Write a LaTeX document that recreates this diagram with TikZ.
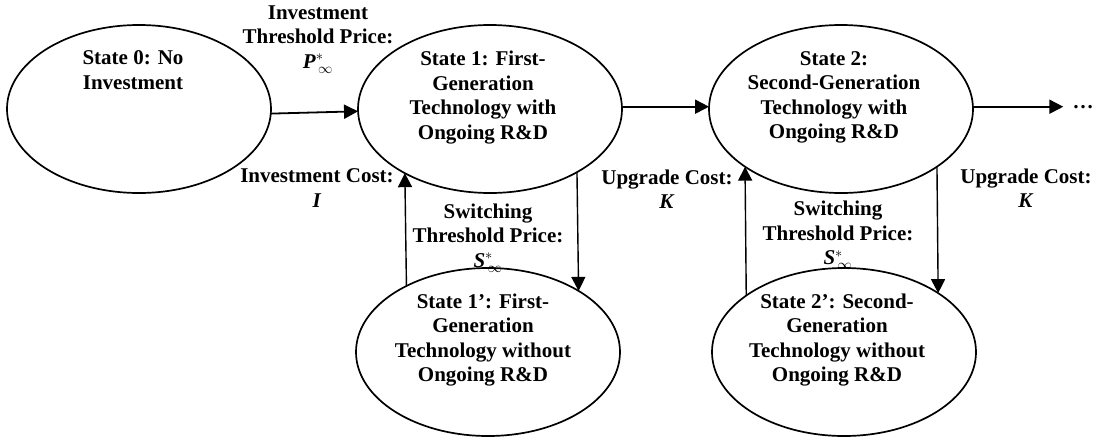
\documentclass[tikz,border=0pt]{standalone}
\usepackage{fontspec}
\setmainfont{Liberation Serif}
\usetikzlibrary{shapes.geometric,arrows.meta}
\begin{document}
\begin{tikzpicture}[x=1pt,y=-1pt,
  stateshape/.style={ellipse,draw,line width=1.7pt,inner sep=0pt,outer sep=0pt,minimum width=264pt,minimum height=168pt},
  txt/.style={font=\fontsize{21}{24.5}\selectfont\bfseries,align=center,inner sep=0pt},
  arr/.style={-{Triangle[length=14pt,width=14pt]},line width=1.8pt},
  varr/.style={-{Triangle[length=14pt,width=14pt]},line width=1.4pt}]
\useasboundingbox (0,0) rectangle (1104,437);
% states
\node[stateshape] (e0) at (139,109) {};
\node[stateshape] (e1) at (490,109) {};
\node[stateshape] (e2) at (841,109) {};
\node[stateshape] (e1p) at (488,352) {};
\node[stateshape] (e2p) at (844,352) {};
% state texts
\node[txt] (t0) at (133,70) {State 0: No\\Investment};
\node[txt] (t1) at (483,97.5) {State 1: First-\\Generation\\Technology with\\Ongoing R\&D};
\node[txt] (t2) at (834,97.5) {State 2:\\Second-Generation\\Technology with\\Ongoing R\&D};
\node[txt] (t1p) at (483,340) {State 1’: First-\\Generation\\Technology without\\Ongoing R\&D};
\node[txt] (t2p) at (837,340) {State 2’: Second-\\Generation\\Technology without\\Ongoing R\&D};
% labels
\node[txt] (lp) at (318,39.5) {Investment\\Threshold Price:\\\textit{P}$^{*}_{\,\infty}$};
\node[txt] (li) at (317,188) {Investment Cost:\\\textit{I}};
\node[txt] (ls1) at (488,238) {Switching\\Threshold Price:\\\textit{S}$^{*}_{\,\infty}$};
\node[txt] (lk1) at (667,189) {Upgrade Cost:\\\textit{K}};
\node[txt] (ls2) at (838,235.5) {Switching\\Threshold Price:\\\textit{S}$^{*}_{\,\infty}$};
\node[txt] (lk2) at (1026,188) {Upgrade Cost:\\\textit{K}};
\node[txt,inner xsep=9pt] (dots) at (1083,107) {…};
% connectors
\draw[arr] (e0.358.5) -- (e1.181.5);
\draw[arr] (e1.1) -- (e2.179);
\draw[arr] (e2.1) -- (e2.1 -| dots.west);
\draw[varr] (e1p.141.26) -- (e1.217.65);
\draw[varr] (e1.324.0) -- (e1p.34.86);
\draw[varr] (e2p.150.7) -- (e2.211.0);
\draw[varr] (e2.329.0) -- (e2p.32.66);
\end{tikzpicture}
\end{document}
